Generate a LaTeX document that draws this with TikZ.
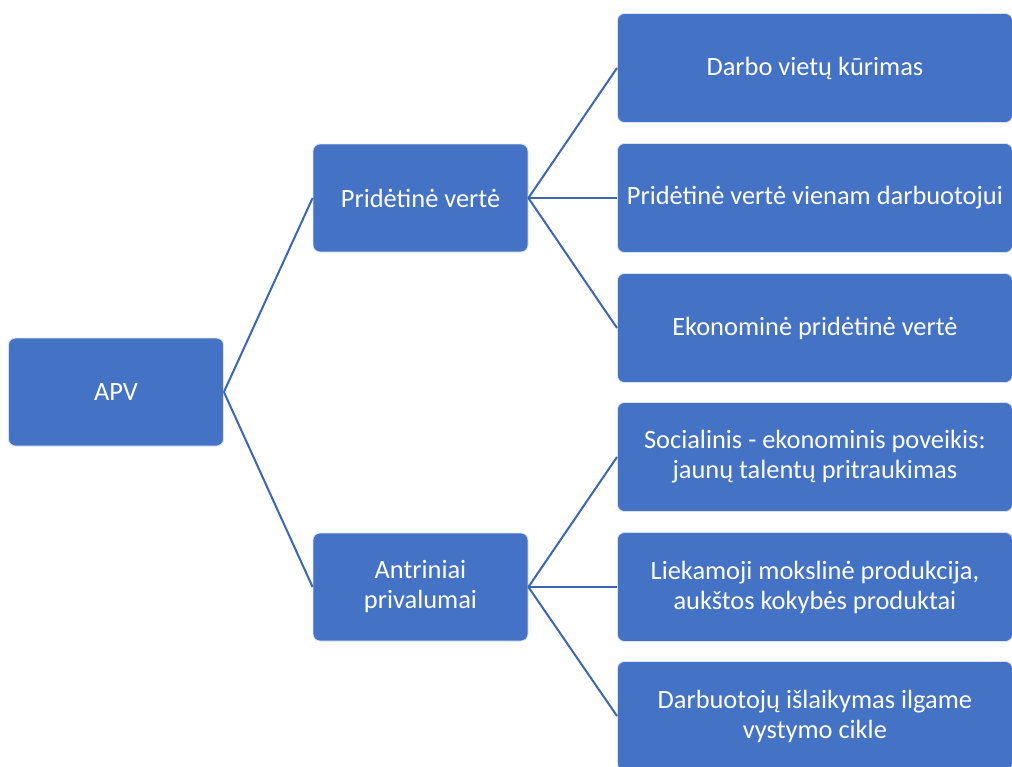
\documentclass[tikz,border=0pt]{standalone}
\usepackage{fontspec}
\setmainfont{Carlito}
\definecolor{boxblue}{HTML}{4472C4}
\definecolor{lineblue}{HTML}{3A66B4}
\begin{document}
\begin{tikzpicture}[x=1pt,y=-1pt,
  box/.style={rectangle, rounded corners=7pt, fill=boxblue, draw=white!80!boxblue, line width=0.8pt,
    text=white, align=center, font=\fontsize{26.4}{30}\selectfont, inner sep=0pt},
  smallbox/.style={box, minimum width=215pt, minimum height=108pt},
  bigbox/.style={box, minimum width=395pt, minimum height=109pt},
  conn/.style={draw=lineblue, line width=2pt}]
\useasboundingbox (0,0) rectangle (1012,766);
\begin{scope}
\clip (0,0) rectangle (1012,766);
\node[smallbox] (apv) at (116,392) {APV};
\node[smallbox] (pv) at (420.5,198) {Pridėtinė vertė};
\node[smallbox] (ap) at (420.5,587) {Antriniai\\privalumai};
\node[bigbox, anchor=west] (r1) at (617,68) {Darbo vietų kūrimas};
\node[bigbox, anchor=west] (r2) at (617,198) {Pridėtinė vertė vienam darbuotojui};
\node[bigbox, anchor=west] (r3) at (617,328) {Ekonominė pridėtinė vertė};
\node[bigbox, anchor=west] (r4) at (617,457) {Socialinis - ekonominis poveikis:\\jaunų talentų pritraukimas};
\node[bigbox, anchor=west] (r5) at (617,587) {Liekamoji mokslinė produkcija,\\aukštos kokybės produktai};
\node[bigbox, anchor=west] (r6) at (617,716) {Darbuotojų išlaikymas ilgame\\vystymo cikle};
\end{scope}
\draw[conn] (apv.east) -- (pv.west);
\draw[conn] (apv.east) -- (ap.west);
\foreach \r in {r1,r2,r3} \draw[conn] (pv.east) -- (\r.west);
\foreach \r in {r4,r5,r6} \draw[conn] (ap.east) -- (\r.west);
\end{tikzpicture}
\end{document}
